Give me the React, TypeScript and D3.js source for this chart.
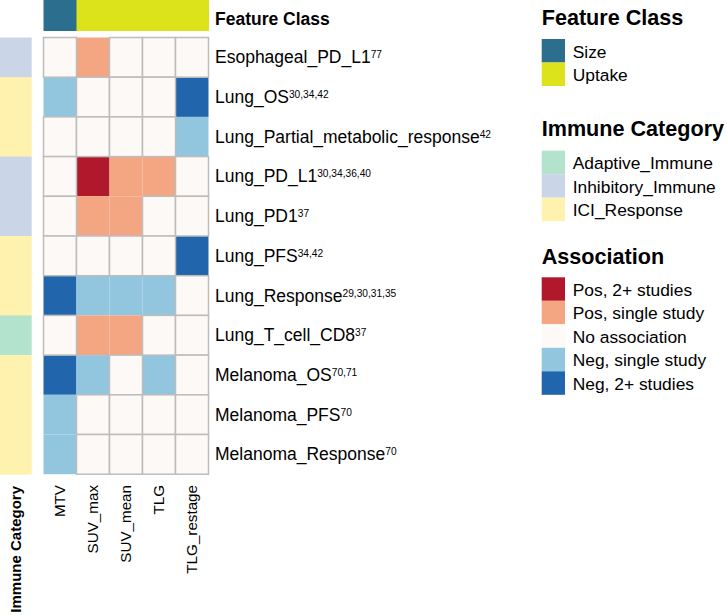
import React from "react";
import * as d3 from "d3";

const columns = ["MTV", "SUV_max", "SUV_mean", "TLG", "TLG_restage"];
const featureClass = ["Size", "Uptake", "Uptake", "Uptake", "Uptake"];

const rowNames = [
  "Esophageal_PD_L1",
  "Lung_OS",
  "Lung_Partial_metabolic_response",
  "Lung_PD_L1",
  "Lung_PD1",
  "Lung_PFS",
  "Lung_Response",
  "Lung_T_cell_CD8",
  "Melanoma_OS",
  "Melanoma_PFS",
  "Melanoma_Response",
];
const rowRefs = [
  "77",
  "30,34,42",
  "42",
  "30,34,36,40",
  "37",
  "34,42",
  "29,30,31,35",
  "37",
  "70,71",
  "70",
  "70",
];
const rowCategory = [
  "Inhibitory_Immune",
  "ICI_Response",
  "ICI_Response",
  "Inhibitory_Immune",
  "Inhibitory_Immune",
  "ICI_Response",
  "ICI_Response",
  "Adaptive_Immune",
  "ICI_Response",
  "ICI_Response",
  "ICI_Response",
];
// 2 = Pos 2+, 1 = Pos single, 0 = none, -1 = Neg single, -2 = Neg 2+
const values = [
  [0, 1, 0, 0, 0],
  [-1, 0, 0, 0, -2],
  [0, 0, 0, 0, -1],
  [0, 2, 1, 1, 0],
  [0, 1, 1, 0, 0],
  [0, 0, 0, 0, -2],
  [-2, -1, -1, -1, 0],
  [0, 1, 1, 0, 0],
  [-2, -1, 0, -1, 0],
  [-1, 0, 0, 0, 0],
  [-1, 0, 0, 0, 0],
];

const featureLevels = ["Size", "Uptake"];
const featureColors = ["#2c6e8d", "#dde31b"];
const immuneLevels = ["Adaptive_Immune", "Inhibitory_Immune", "ICI_Response"];
const immuneColors = ["#b3e2cd", "#cbd5e8", "#fff2ae"];
const assocLevels = [2, 1, 0, -1, -2];
const assocLabels = [
  "Pos, 2+ studies",
  "Pos, single study",
  "No association",
  "Neg, single study",
  "Neg, 2+ studies",
];
const assocColors = ["#b2182b", "#f4a582", "#fdf9f7", "#92c5de", "#2166ac"];

const FONT = "'Liberation Sans', Arial, Helvetica, sans-serif";

export default function App() {
  const x = d3.scaleBand<string>().domain(columns).range([43.5, 208.5]).padding(0);
  const y = d3.scaleBand<string>().domain(rowNames).range([37.5, 474.2]).padding(0);
  const fColor = d3.scaleOrdinal<string, string>().domain(featureLevels).range(featureColors);
  const iColor = d3.scaleOrdinal<string, string>().domain(immuneLevels).range(immuneColors);
  const aColor = d3.scaleOrdinal<number, string>().domain(assocLevels).range(assocColors);

  const cells: { r: string; c: string; v: number }[] = [];
  values.forEach((row, i) =>
    row.forEach((v, j) => cells.push({ r: rowNames[i], c: columns[j], v }))
  );
  const colored = cells.filter((d) => d.v !== 0);
  const blank = cells.filter((d) => d.v === 0);

  const legX = 541.7;
  const swW = 23.3;
  const swH = 23.5;
  const legLabelX = 572.7;

  const legendGroup = (
    title: string,
    titleY: number,
    startY: number,
    labels: string[],
    colors: string[]
  ) => (
    <g key={title}>
      <text x={legX} y={titleY} fontSize={21.6} fontWeight="bold" fill="#000">
        {title}
      </text>
      {labels.map((l, i) => (
        <g key={l}>
          <rect x={legX} y={startY + i * swH} width={swW} height={swH} fill={colors[i]} />
          <text x={legLabelX} y={startY + i * swH + swH / 2 + 6.8} fontSize={17.4} fill="#000">
            {l}
          </text>
        </g>
      ))}
    </g>
  );

  return (
    <svg
      width={727}
      height={615}
      style={{ position: "absolute", left: 0, top: 0, background: "#fff" }}
      fontFamily={FONT}
    >
      {/* Feature class bar */}
      {columns.map((c, j) => (
        <rect
          key={"fc" + c}
          x={x(c)}
          y={0}
          width={x.bandwidth() + 0.5}
          height={31}
          fill={fColor(featureClass[j])}
        />
      ))}
      <text x={215} y={25} fontSize={17.5} fontWeight="bold" fill="#000">
        Feature Class
      </text>

      {/* Immune category bar */}
      {rowNames.map((r, i) => (
        <rect
          key={"ic" + r}
          x={0}
          y={y(r)}
          width={31.7}
          height={y.bandwidth() + 0.5}
          fill={iColor(rowCategory[i])}
        />
      ))}

      {/* Heatmap cells */}
      {colored.map((d) => (
        <rect
          key={d.r + d.c}
          x={x(d.c)}
          y={y(d.r)}
          width={x.bandwidth()}
          height={y.bandwidth()}
          fill={aColor(d.v)}
        />
      ))}
      {blank.map((d) => (
        <rect
          key={d.r + d.c}
          x={x(d.c)}
          y={y(d.r)}
          width={x.bandwidth()}
          height={y.bandwidth()}
          fill={aColor(d.v)}
          stroke="#bdbdbd"
          strokeWidth={1.5}
        />
      ))}

      {/* Row labels */}
      {rowNames.map((r, i) => (
        <text
          key={"rl" + r}
          x={215}
          y={(y(r) as number) + y.bandwidth() / 2 + 6}
          fontSize={17.5}
          fill="#000"
        >
          <tspan>{r}</tspan>
          <tspan fontSize={10.2} dy={-5}>
            {rowRefs[i]}
          </tspan>
        </text>
      ))}

      {/* Column labels */}
      {columns.map((c) => {
        const cx = (x(c) as number) + x.bandwidth() / 2;
        return (
          <text
            key={"cl" + c}
            transform={`translate(${cx + 5.3},485) rotate(-90)`}
            textAnchor="end"
            fontSize={15.2}
            fill="#000"
          >
            {c}
          </text>
        );
      })}
      <text
        transform={`translate(21.2,486) rotate(-90)`}
        textAnchor="end"
        fontSize={15}
        fontWeight="bold"
        fill="#000"
      >
        Immune Category
      </text>

      {/* Legends */}
      {legendGroup("Feature Class", 25, 39, featureLevels, featureColors)}
      {legendGroup("Immune Category", 136, 150.7, immuneLevels, immuneColors)}
      {legendGroup(
        "Association",
        264,
        277.3,
        assocLabels,
        assocColors
      )}
    </svg>
  );
}
